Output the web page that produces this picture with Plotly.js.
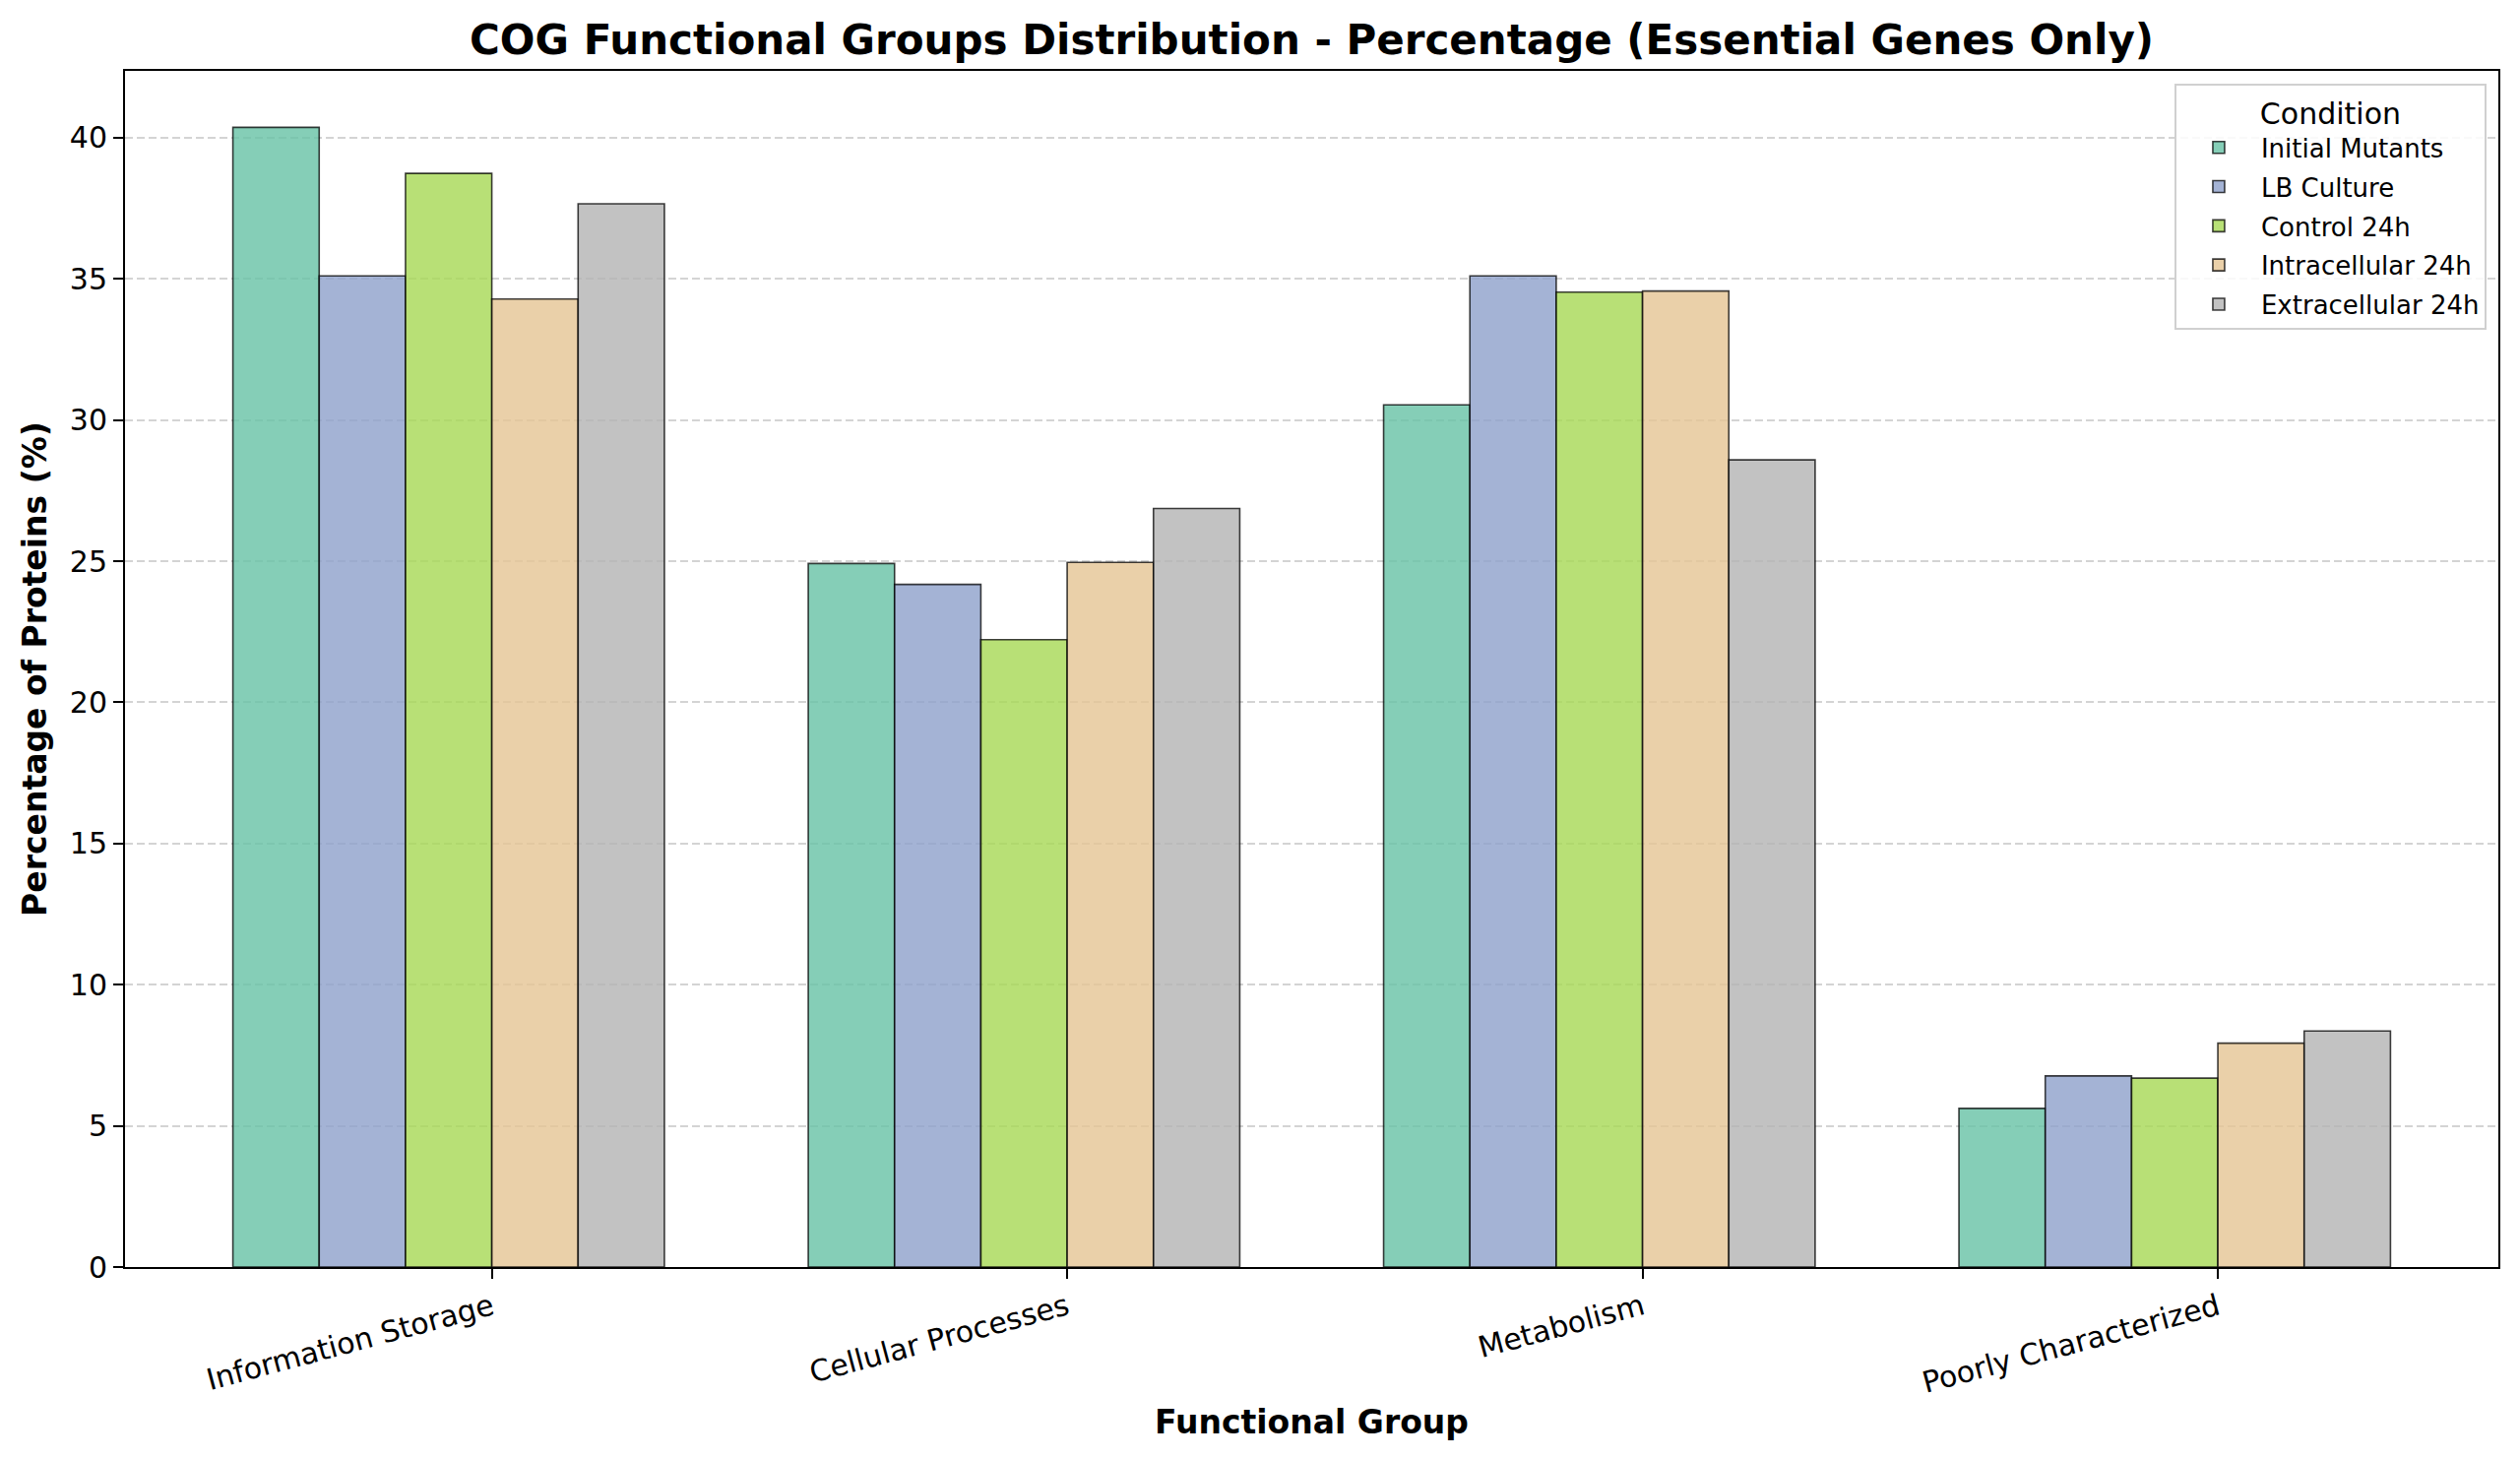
<!DOCTYPE html>
<html>
<head>
<meta charset="utf-8">
<script src="https://cdn.plot.ly/plotly-3.0.1.min.js"></script>
<style>
  html, body { margin: 0; padding: 0; background: #ffffff; }
  #chart { width: 2560px; height: 1482px; }
</style>
</head>
<body>
<div id="chart"></div>
<script>
// functional groups (x categories)
const groups = ['Information Storage', 'Cellular Processes', 'Metabolism', 'Poorly Characterized'];

// conditions (one series each)
const conditions = ['Initial Mutants', 'LB Culture', 'Control 24h', 'Intracellular 24h', 'Extracellular 24h'];

// percentage of proteins per group, one array per condition
const initialMutants = [40.37, 24.92, 30.54, 5.62];
const lbCulture = [35.11, 24.18, 35.11, 6.77];
const control24h = [38.74, 22.22, 34.53, 6.69];
const intracellular24h = [34.29, 24.96, 34.57, 7.93];
const extracellular24h = [37.66, 26.87, 28.59, 8.36];

const seriesValues = [initialMutants, lbCulture, control24h, intracellular24h, extracellular24h];

// Set2 palette, drawn at alpha 0.8
const colors = [
    'rgba(102,194,165,0.8)',
    'rgba(141,160,203,0.8)',
    'rgba(166,216,84,0.8)',
    'rgba(229,196,148,0.8)',
    'rgba(179,179,179,0.8)'
];

const barWidth = 0.15;
const font = 'DejaVu Sans, Liberation Sans, sans-serif';

const traces = conditions.map((name, i) => ({
    type: 'bar',
    name: name,
    legendgroup: 'g' + i,   // separate groups so the legend rows get a small gap
    x: groups,
    y: seriesValues[i],
    width: barWidth,
    offset: (i - 3) * barWidth,   // bars sit left of tick except last two
    marker: {
        color: colors[i],
        line: { color: 'rgba(0,0,0,0.75)', width: 1.6 }
    },
    hoverinfo: 'x+y+name'
}));

const layout = {
    width: 2560,
    height: 1482,
    margin: { l: 127, r: 22, t: 72, b: 195 },
    paper_bgcolor: '#ffffff',
    plot_bgcolor: '#ffffff',
    font: { family: font, color: '#000000', size: 30 },
    barmode: 'overlay',
    title: {
        text: 'COG Functional Groups Distribution - Percentage (Essential Genes Only)',
        font: { family: font, size: 42, weight: 'bold', color: '#000000' },
        x: 0.5,
        xref: 'paper',
        xanchor: 'center',
        y: 0.973,
        yref: 'container',
        yanchor: 'middle'
    },
    xaxis: {
        type: 'category',
        range: [-0.6375, 3.4875],
        showline: true,
        mirror: true,
        linecolor: '#000000',
        linewidth: 2,
        ticks: 'outside',
        ticklen: 10,
        tickwidth: 2,
        tickcolor: '#000000',
        tickangle: -15,
        tickfont: { family: font, size: 30 },
        showgrid: false,
        zeroline: false,
        title: {
            text: 'Functional Group',
            font: { family: font, size: 33, weight: 'bold' },
            standoff: 12
        }
    },
    yaxis: {
        range: [0, 42.37],
        dtick: 5,
        tick0: 0,
        showline: true,
        mirror: true,
        linecolor: '#000000',
        linewidth: 2,
        ticks: 'outside',
        ticklen: 10,
        tickwidth: 2,
        tickcolor: '#000000',
        tickfont: { family: font, size: 30 },
        showgrid: true,
        gridcolor: 'rgba(176,176,176,0.55)',
        gridwidth: 2,
        griddash: '8px,4px',
        zeroline: false,
        title: {
            text: 'Percentage of Proteins (%)',
            font: { family: font, size: 33, weight: 'bold' },
            standoff: 13
        }
    },
    showlegend: true,
    legend: {
        x: 0.995,
        xanchor: 'right',
        y: 0.989,
        yanchor: 'top',
        bgcolor: 'rgba(255,255,255,0.85)',
        bordercolor: '#d0d0d0',
        borderwidth: 2,
        font: { family: font, size: 26 },
        title: {
            text: 'Condition',
            side: 'top center',
            font: { family: font, size: 30 }
        },
        itemwidth: 76,
        tracegroupgap: 3,
        traceorder: 'grouped'
    }
};

Plotly.newPlot('chart', traces, layout, { displayModeBar: false, staticPlot: true });
</script>
</body>
</html>
